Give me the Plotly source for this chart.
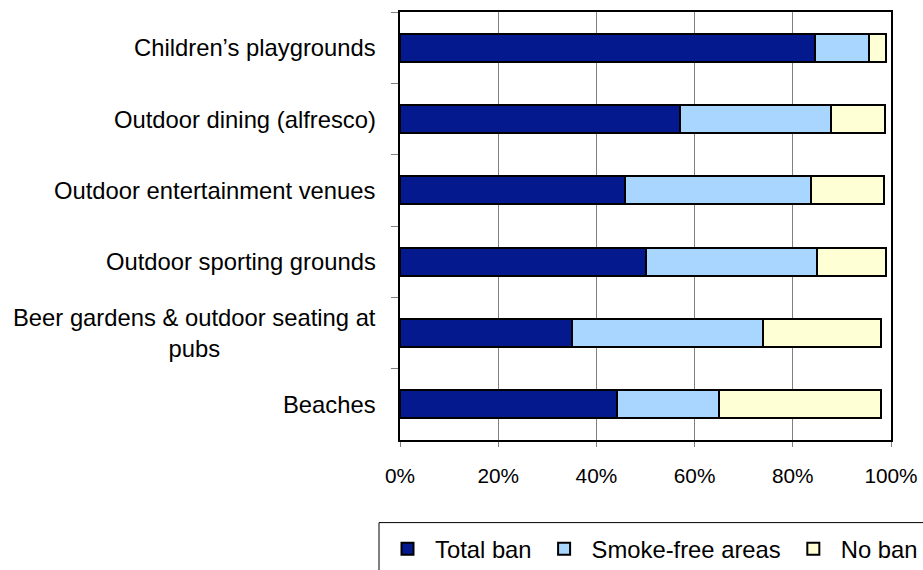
import plotly.graph_objects as go

categories = [
    "Children’s playgrounds",
    "Outdoor dining (alfresco)",
    "Outdoor entertainment venues",
    "Outdoor sporting grounds",
    "Beer gardens & outdoor seating at<br>pubs",
    "Beaches",
]
total_ban = [84.6, 57.0, 45.8, 50.0, 35.0, 44.1]
smoke_free = [10.9, 30.7, 37.9, 34.9, 39.0, 20.9]
no_ban = [3.5, 11.1, 14.9, 14.0, 24.0, 33.0]
series_names = ["Total ban", "Smoke-free areas", "No ban"]
series_colors = ["#05198F", "#A9D6FF", "#FFFFD5"]
x_tick_vals = [0, 20, 40, 60, 80, 100]
x_tick_text = ["0%", "20%", "40%", "60%", "80%", "100%"]

FONT = "Liberation Sans, Arial, sans-serif"

# plot-area geometry in pixels (used to convert the legend frame to paper coords)
W, H = 923, 570
L, R, T, B = 400, 32, 11.5, 130
PW, PH = W - L - R, H - T - B

def px_x(px):
    return (px - L) / PW

def px_y(py):
    return (H - B - py) / PH

fig = go.Figure()
for name, vals, col in zip(series_names, [total_ban, smoke_free, no_ban], series_colors):
    fig.add_trace(go.Bar(
        y=categories, x=vals, name=name, orientation="h",
        width=0.39,
        marker=dict(color=col, line=dict(color="black", width=2)),
    ))

for cat in categories:
    fig.add_annotation(
        x=0, xref="paper", y=cat, yref="y", xanchor="right", xshift=-22,
        text=cat, showarrow=False, align="center",
        font=dict(family=FONT, size=23.8, color="black"),
    )

# legend frame (extends past the bottom/right edge as in the reference)
fig.add_shape(
    type="rect", xref="paper", yref="paper",
    x0=px_x(379), x1=px_x(940), y0=px_y(522.7), y1=px_y(590),
    line=dict(color="black", width=1), fillcolor="rgba(0,0,0,0)", layer="above",
)

fig.update_layout(
    width=W, height=H,
    barmode="stack",
    margin=dict(l=L, r=R, t=T, b=B, autoexpand=False),
    plot_bgcolor="white", paper_bgcolor="white",
    font=dict(family=FONT, color="black"),
    showlegend=True,
    legend=dict(
        orientation="h",
        x=px_x(380), xanchor="left",
        y=px_y(527), yanchor="top",
        borderwidth=0, bgcolor="rgba(0,0,0,0)",
        itemwidth=45,
        font=dict(family=FONT, size=23.8, color="black"),
        traceorder="normal",
    ),
    xaxis=dict(
        range=[0, 100], tickvals=x_tick_vals, ticktext=x_tick_text,
        showgrid=True, gridcolor="#808080", gridwidth=1,
        showline=True, linecolor="black", linewidth=2, mirror=True,
        ticks="outside", ticklen=5, tickcolor="#808080",
        ticklabelstandoff=11,
        tickfont=dict(family=FONT, size=20.8, color="black"),
        zeroline=False,
    ),
    yaxis=dict(
        categoryorder="array", categoryarray=categories,
        range=[5.5, -0.5],
        showline=True, linecolor="black", linewidth=2, mirror=True,
        ticks="outside", tickson="boundaries", ticklen=7, tickcolor="#808080",
        showticklabels=False, showgrid=False, zeroline=False,
    ),
)

fig.write_html(
    "out.html",
    config={"displayModeBar": False},
    post_script="document.body.style.margin='0';document.body.style.overflow='hidden';",
)
